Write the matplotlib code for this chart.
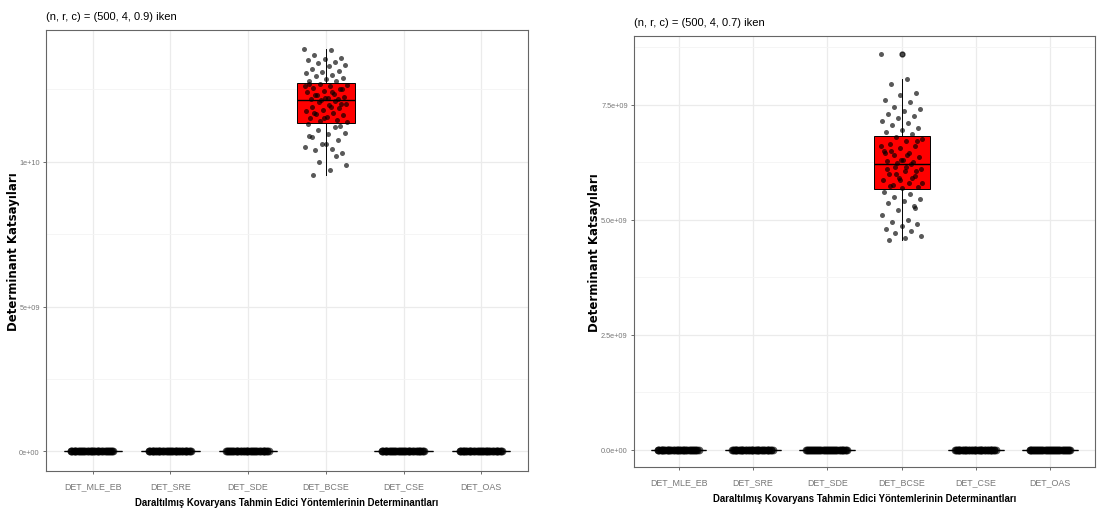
import numpy as np
import matplotlib
matplotlib.use("Agg")
from matplotlib import pyplot as plt
from matplotlib.ticker import FixedLocator

plt.rcParams['font.family'] = ['Liberation Sans', 'DejaVu Sans']

# kategoriler
kategoriler = ["DET_MLE_EB", "DET_SRE", "DET_SDE", "DET_BCSE", "DET_CSE", "DET_OAS"]

# sifira yakin determinantlar (grafik olceginde 0)
sifir_yakin = [0.0, 1.0e5, 2.0e5, 0.5e5, 3.0e5, 1.5e5, 0.0, 2.5e5, 1.0e5, 0.8e5,
               0.2e5, 1.2e5, 2.2e5, 0.6e5, 1.8e5, 0.4e5, 2.8e5, 0.9e5, 1.6e5, 0.3e5,
               2.4e5, 1.1e5, 0.7e5, 1.9e5, 0.1e5, 2.6e5, 1.4e5, 0.5e5, 2.1e5, 1.3e5,
               0.0, 1.7e5, 2.3e5, 0.6e5, 1.0e5, 2.9e5, 0.8e5, 1.5e5, 0.2e5, 2.0e5]

# DET_BCSE, c = 0.9 (1e9 birim)
bcse_09 = [13.9, 13.85, 13.7, 13.6, 13.55, 13.5, 13.45, 13.4, 13.35, 13.3,
           13.2, 13.15, 13.1, 13.05, 13.0, 12.95, 12.9, 12.85, 12.8, 12.78,
           12.7, 12.65, 12.6, 12.55, 12.5, 12.45, 12.4, 12.35, 12.3, 12.25,
           12.2, 12.18, 12.16, 12.15, 12.6, 12.4, 12.3, 12.5, 12.2, 12.7,
           12.1, 12.05, 12.0, 11.95, 11.9, 11.85, 11.8, 11.75, 11.7, 11.65,
           11.6, 11.55, 11.5, 11.45, 11.4, 11.36, 11.9, 11.7, 12.0, 11.5,
           11.3, 11.2, 11.1, 11.0, 10.95, 10.85, 10.75, 10.6, 10.5, 10.45,
           10.4, 10.3, 10.6, 10.9, 10.2, 10.0, 9.9, 9.7, 9.55, 11.25]

# DET_BCSE, c = 0.7 (1e9 birim)
bcse_07 = [8.59, 8.05, 7.95, 7.75, 7.7, 7.6, 7.55, 7.45, 7.4, 7.35,
           7.3, 7.25, 7.2, 7.15, 7.1, 7.05, 7.0, 6.95, 6.9, 6.85,
           6.8, 6.75, 6.7, 6.65, 6.6, 6.55, 6.5, 6.45, 6.4, 6.35,
           6.3, 6.28, 6.25, 6.23, 6.6, 6.4, 6.5, 6.7, 6.3, 6.45,
           6.2, 6.15, 6.1, 6.05, 6.0, 5.95, 5.9, 5.85, 5.8, 5.75,
           5.7, 5.68, 6.1, 5.9, 6.0, 5.8, 6.15, 5.72, 6.05, 5.85,
           5.6, 5.55, 5.5, 5.45, 5.4, 5.35, 5.3, 5.2, 5.1, 5.0,
           4.95, 4.9, 4.85, 4.8, 4.75, 4.7, 4.65, 4.6, 4.55, 5.25]

basliklar = ["(n, r, c) = (500, 4, 0.9) iken", "(n, r, c) = (500, 4, 0.7) iken"]
yticks_sol = [0, 5e9, 1e10]
ylabels_sol = ["0e+00", "5e+09", "1e+10"]
yticks_sag = [0, 2.5e9, 5e9, 7.5e9]
ylabels_sag = ["0.0e+00", "2.5e+09", "5.0e+09", "7.5e+09"]

xlab = "Daraltılmış Kovaryans Tahmin Edici Yöntemlerinin Determinantları"
ylab = "Determinant Katsayıları"


def ciz(ax, bcse, yt, yl, ylim, baslik, ylab_x):
    gruplar = [sifir_yakin, sifir_yakin, sifir_yakin,
               [v * 1e9 for v in bcse], sifir_yakin, sifir_yakin]
    pos = np.arange(1, 7)
    ax.boxplot(gruplar, positions=pos, widths=0.75, patch_artist=True,
               boxprops=dict(facecolor="#ff0000", edgecolor="black", linewidth=0.7),
               medianprops=dict(color="black", linewidth=1.0),
               whiskerprops=dict(color="black", linewidth=0.7),
               capprops=dict(linewidth=0),
               flierprops=dict(marker="o", markerfacecolor="black",
                               markeredgecolor="black", markersize=3.5, alpha=0.7),
               zorder=2)
    for p, g in zip(pos, gruplar):
        n = len(g)
        jit = ((np.arange(n) * 0.6180339887) % 1 - 0.5) * 0.56
        ax.plot(p + jit, g, "o", color="black", markersize=3.6 if n > 40 else 5.6,
                alpha=0.65, markeredgewidth=0, zorder=3)
    ax.set_xlim(0.4, 6.6)
    ax.set_ylim(*ylim)
    ax.set_xticks(pos)
    ax.set_xticklabels(kategoriler)
    ax.set_yticks(yt)
    ax.set_yticklabels(yl)
    mids = [(yt[i] + yt[i + 1]) / 2 for i in range(len(yt) - 1)]
    mids.append(yt[-1] + (yt[1] - yt[0]) / 2)
    ax.yaxis.set_minor_locator(FixedLocator(mids))
    ax.grid(True, which="major", color="#ebebeb", linewidth=0.9, zorder=0)
    ax.grid(True, which="minor", axis="y", color="#f4f4f4", linewidth=0.6, zorder=0)
    ax.set_axisbelow(True)
    ax.tick_params(axis="x", which="major", colors="#555555", labelcolor="#777777",
                   labelsize=6.4, length=2.5, width=0.6, pad=5)
    ax.tick_params(axis="y", which="major", colors="#555555", labelcolor="#777777",
                   labelsize=5.3, length=2.5, width=0.6, pad=2)
    ax.tick_params(axis="both", which="minor", length=0)
    for s in ax.spines.values():
        s.set_color("#666666")
        s.set_linewidth(0.8)
    ax.set_xlabel(xlab, fontsize=6.9, fontweight="bold", labelpad=5)
    ax.set_ylabel(ylab, fontsize=8.5, fontweight="bold", family=["DejaVu Sans"])
    ax.yaxis.set_label_coords(ylab_x, 0.5)
    ax.set_title(baslik, loc="left", fontsize=8, pad=8)


fig = plt.figure(figsize=(11.01, 5.10), dpi=100)
ax1 = fig.add_axes([0.0418, 0.0745, 0.4377, 0.8647])
ax2 = fig.add_axes([0.5758, 0.0824, 0.4187, 0.8451])

ciz(ax1, bcse_09, yticks_sol, ylabels_sol, (-0.68e9, 14.55e9), basliklar[0], -0.054)
ciz(ax2, bcse_07, yticks_sag, ylabels_sag, (-0.376e9, 8.99e9), basliklar[1], -0.072)

fig.savefig("out.png", dpi=100)
